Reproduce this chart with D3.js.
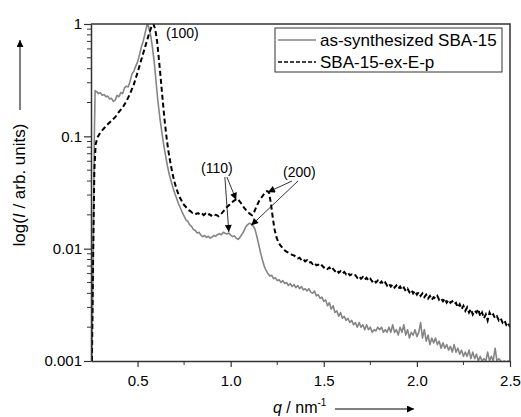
<!DOCTYPE html>
<html>
<head>
<meta charset="utf-8">
<script src="https://cdn.jsdelivr.net/npm/d3@7"></script>
<style>
  body { margin: 0; background: #fff; }
  text { font-family: Arial, "Liberation Sans", sans-serif; fill: #000; }
</style>
</head>
<body>
<div id="chart"></div>
<script>
// as-synthesized SBA-15 (grey solid)
var qSynth = [0.255,0.262,0.268,0.272,0.28,0.29,0.30,0.31,0.32,0.33,0.34,0.35,0.36,0.37,0.38,0.39,0.40,0.41,0.42,0.43,0.44,0.45,0.46,0.47,0.48,0.49,0.50,0.51,0.52,0.53,0.54,0.55,0.555,0.56,0.57,0.58,0.59,0.60,0.61,0.62,0.63,0.64,0.65,0.66,0.67,0.68,0.69,0.70,0.71,0.72,0.73,0.74,0.75,0.76,0.77,0.78,0.79,0.80,0.81,0.82,0.83,0.84,0.85,0.86,0.87,0.88,0.89,0.90,0.91,0.92,0.93,0.94,0.95,0.96,0.97,0.98,0.99,1.00,1.01,1.02,1.03,1.04,1.05,1.06,1.07,1.08,1.09,1.10,1.11,1.12,1.13,1.14,1.15,1.16,1.17,1.18,1.19,1.20,1.21,1.22,1.23,1.24,1.25,1.26,1.27,1.28,1.29,1.30,1.31,1.32,1.33,1.34,1.35,1.36,1.37,1.38,1.39,1.40,1.41,1.42,1.43,1.44,1.45,1.46,1.47,1.48,1.49,1.50,1.51,1.52,1.53,1.54,1.55,1.56,1.57,1.58,1.59,1.60,1.61,1.62,1.63,1.64,1.65,1.66,1.67,1.68,1.69,1.70,1.71,1.72,1.73,1.74,1.75,1.76,1.77,1.78,1.79,1.80,1.81,1.82,1.83,1.84,1.85,1.86,1.87,1.88,1.89,1.90,1.91,1.92,1.93,1.94,1.95,1.96,1.97,1.98,1.99,2.00,2.01,2.02,2.03,2.04,2.05,2.06,2.07,2.08,2.09,2.10,2.11,2.12,2.13,2.14,2.15,2.16,2.17,2.18,2.19,2.20,2.21,2.22,2.23,2.24,2.25,2.26,2.27,2.28,2.29,2.30,2.31,2.32,2.33,2.34,2.35,2.36,2.37,2.38,2.39,2.40,2.41,2.42,2.43,2.44,2.45,2.46,2.47,2.48,2.49,2.50];
var iSynth = [0.001,0.01,0.1,0.255,0.25,0.24,0.245,0.232,0.236,0.225,0.228,0.215,0.218,0.205,0.21,0.232,0.225,0.245,0.24,0.27,0.28,0.275,0.31,0.36,0.38,0.42,0.46,0.53,0.62,0.70,0.82,0.97,1.0,0.93,0.80,0.62,0.45,0.30,0.20,0.145,0.11,0.085,0.068,0.055,0.046,0.040,0.035,0.031,0.028,0.025,0.023,0.021,0.0195,0.018,0.0175,0.0163,0.0158,0.0148,0.0145,0.0138,0.0140,0.0132,0.0128,0.0131,0.0126,0.0129,0.0124,0.0127,0.0131,0.0129,0.0134,0.0136,0.0133,0.0140,0.0137,0.0135,0.0138,0.0132,0.0128,0.0130,0.0124,0.0121,0.0126,0.0134,0.0142,0.0155,0.0163,0.0168,0.0166,0.0160,0.0150,0.0130,0.0110,0.0093,0.0080,0.0070,0.0064,0.0060,0.0057,0.0058,0.0054,0.0055,0.0052,0.0053,0.0050,0.0052,0.0049,0.0050,0.0047,0.0049,0.0046,0.0048,0.0045,0.0047,0.0044,0.0046,0.0043,0.0044,0.0042,0.0044,0.0041,0.0040,0.0042,0.0038,0.0039,0.0036,0.0037,0.0034,0.0035,0.0031,0.0033,0.0029,0.0031,0.0027,0.0028,0.0025,0.0027,0.0024,0.0025,0.0023,0.0024,0.0022,0.0023,0.0021,0.0022,0.0020,0.0022,0.0020,0.0021,0.0019,0.0021,0.0019,0.0020,0.0018,0.0019,0.00185,0.0020,0.0019,0.0020,0.0018,0.0019,0.0018,0.0020,0.0018,0.0021,0.0018,0.0019,0.0017,0.0020,0.0018,0.0021,0.0017,0.0019,0.0016,0.0018,0.0017,0.0019,0.00165,0.0018,0.0022,0.0016,0.0019,0.0015,0.0017,0.0014,0.0016,0.00145,0.0016,0.0014,0.0015,0.0013,0.00145,0.0013,0.0014,0.00125,0.00135,0.0012,0.0014,0.0012,0.0013,0.00115,0.00125,0.0011,0.0012,0.0011,0.00125,0.00105,0.0012,0.00105,0.00115,0.001,0.0011,0.001,0.00105,0.001,0.0012,0.001,0.0011,0.001,0.0013,0.001,0.00105,0.001,0.00098,0.001,0.00097,0.001,0.00098];

// SBA-15-ex-E-p (black dashed)
var qExEp = [0.255,0.262,0.268,0.275,0.285,0.30,0.32,0.34,0.36,0.38,0.40,0.42,0.44,0.46,0.48,0.50,0.52,0.54,0.56,0.575,0.585,0.595,0.605,0.615,0.625,0.635,0.645,0.655,0.665,0.675,0.685,0.695,0.705,0.715,0.725,0.735,0.745,0.755,0.765,0.775,0.785,0.795,0.805,0.815,0.825,0.835,0.845,0.855,0.865,0.875,0.885,0.895,0.905,0.915,0.925,0.935,0.945,0.955,0.965,0.975,0.985,0.995,1.005,1.015,1.025,1.035,1.045,1.055,1.065,1.075,1.085,1.095,1.105,1.115,1.125,1.135,1.145,1.155,1.165,1.175,1.185,1.195,1.205,1.215,1.225,1.235,1.245,1.255,1.265,1.28,1.29,1.30,1.31,1.32,1.33,1.34,1.35,1.36,1.37,1.38,1.39,1.40,1.41,1.42,1.43,1.44,1.45,1.46,1.47,1.48,1.49,1.50,1.51,1.52,1.53,1.54,1.55,1.56,1.57,1.58,1.59,1.60,1.61,1.62,1.63,1.64,1.65,1.66,1.67,1.68,1.69,1.70,1.71,1.72,1.73,1.74,1.75,1.76,1.77,1.78,1.79,1.80,1.81,1.82,1.83,1.84,1.85,1.86,1.87,1.88,1.89,1.90,1.91,1.92,1.93,1.94,1.95,1.96,1.97,1.98,1.99,2.00,2.01,2.02,2.03,2.04,2.05,2.06,2.07,2.08,2.09,2.10,2.11,2.12,2.13,2.14,2.15,2.16,2.17,2.18,2.19,2.20,2.21,2.22,2.23,2.24,2.25,2.26,2.27,2.28,2.29,2.30,2.31,2.32,2.33,2.34,2.35,2.36,2.37,2.38,2.39,2.40,2.41,2.42,2.43,2.44,2.45,2.46,2.47,2.48,2.49,2.50];
var iExEp = [0.001,0.01,0.05,0.085,0.098,0.108,0.118,0.128,0.138,0.148,0.165,0.18,0.205,0.24,0.29,0.37,0.48,0.62,0.80,0.95,1.0,0.90,0.70,0.48,0.32,0.21,0.14,0.10,0.075,0.06,0.049,0.041,0.036,0.032,0.029,0.027,0.025,0.024,0.023,0.022,0.0215,0.0208,0.021,0.0204,0.0207,0.0201,0.0206,0.0199,0.0205,0.0198,0.0203,0.0197,0.0204,0.020,0.0199,0.0194,0.0201,0.0209,0.0219,0.0230,0.0239,0.0247,0.0257,0.0265,0.0272,0.0278,0.0268,0.0255,0.0240,0.0228,0.0218,0.0210,0.0203,0.0199,0.0210,0.0230,0.0250,0.0270,0.0285,0.0300,0.0315,0.0325,0.0320,0.0260,0.0195,0.0150,0.0128,0.0115,0.0108,0.0101,0.0097,0.0094,0.0092,0.0090,0.0088,0.0087,0.0085,0.0082,0.0083,0.0079,0.0081,0.0077,0.0079,0.0075,0.0076,0.0073,0.0075,0.0071,0.0072,0.0069,0.0071,0.0068,0.0069,0.0066,0.0068,0.0064,0.0066,0.0063,0.0065,0.0061,0.0063,0.0060,0.0062,0.0059,0.0061,0.0058,0.0059,0.0057,0.0058,0.0055,0.0057,0.0054,0.0056,0.0053,0.0055,0.0052,0.0054,0.0051,0.0053,0.0050,0.0052,0.0049,0.0051,0.0048,0.0050,0.0047,0.0049,0.0046,0.0048,0.0045,0.0047,0.0044,0.0046,0.0043,0.0045,0.0042,0.0044,0.0041,0.0043,0.0040,0.0042,0.0039,0.0041,0.0038,0.0040,0.0037,0.0039,0.0036,0.0038,0.0035,0.0037,0.0036,0.0038,0.0035,0.0036,0.0034,0.0036,0.0033,0.0035,0.0033,0.0034,0.0032,0.0033,0.0030,0.0032,0.0029,0.0031,0.0028,0.0030,0.0027,0.0029,0.0026,0.0028,0.0027,0.0029,0.0025,0.0027,0.0024,0.0026,0.0023,0.0027,0.0025,0.0026,0.0024,0.0025,0.0023,0.0024,0.0022,0.0023,0.0021,0.0022,0.0020,0.0021,0.0020];

var xTicks = [0.5, 1.0, 1.5, 2.0, 2.5];
var xMinor = [0.75, 1.25, 1.75, 2.25];
var yTicks = [1, 0.1, 0.01, 0.001];
var yTickLabels = ["1", "0.1", "0.01", "0.001"];
var seriesNames = ["as-synthesized SBA-15", "SBA-15-ex-E-p"];
var peakLabels = ["(100)", "(110)", "(200)"];

var width = 521, height = 417;
var margin = {top: 24, right: 11, bottom: 56, left: 91};

var svg = d3.select('#chart').append('svg')
  .attr('width', width)
  .attr('height', height);

var defs = svg.append('defs');
defs.append('clipPath').attr('id', 'plotclip')
  .append('rect')
  .attr('x', margin.left).attr('y', margin.top)
  .attr('width', width - margin.left - margin.right)
  .attr('height', height - margin.top - margin.bottom);
defs.append('marker').attr('id', 'ah')
  .attr('viewBox', '0 0 10 10').attr('refX', 10).attr('refY', 5)
  .attr('markerWidth', 9).attr('markerHeight', 7).attr('markerUnits', 'userSpaceOnUse')
  .attr('orient', 'auto')
  .append('path').attr('d', 'M0,0 L10,5 L0,10 z').attr('fill', '#000');
defs.append('marker').attr('id', 'ahBig')
  .attr('viewBox', '0 0 10 10').attr('refX', 10).attr('refY', 5)
  .attr('markerWidth', 12).attr('markerHeight', 7).attr('markerUnits', 'userSpaceOnUse')
  .attr('orient', 'auto')
  .append('path').attr('d', 'M0,0 L10,5 L0,10 z').attr('fill', '#000');

var x = d3.scaleLinear().domain([0.25, 2.5]).range([margin.left, width - margin.right]);
var y = d3.scaleLog().domain([0.001, 1]).range([height - margin.bottom, margin.top]);

// minor ticks for log axis
var yMinor = [];
[0.001, 0.01, 0.1].forEach(function(d) {
  for (var k = 2; k <= 9; k++) yMinor.push(d * k);
});

var line = d3.line()
  .x(function(d) { return x(d[0]); })
  .y(function(d) { return y(Math.max(d[1], 0.0008)); });

var synth = qSynth.map(function(q, i) { return [q, iSynth[i]]; });
var exep = qExEp.map(function(q, i) { return [q, iExEp[i]]; });

var plot = svg.append('g').attr('clip-path', 'url(#plotclip)');
plot.append('path').datum(synth)
  .attr('d', line)
  .attr('fill', 'none')
  .attr('stroke', '#858585')
  .attr('stroke-width', 1.6)
  .attr('stroke-linejoin', 'round');
plot.append('path').datum(exep)
  .attr('d', line)
  .attr('fill', 'none')
  .attr('stroke', '#000')
  .attr('stroke-width', 2)
  .attr('stroke-dasharray', '5,3');

// axes
var xAxis = d3.axisBottom(x).tickValues(xTicks).tickFormat(d3.format('.1f')).tickSizeInner(6).tickSizeOuter(0);
var gx = svg.append('g').attr('transform', 'translate(0,' + (height - margin.bottom) + ')').call(xAxis);
gx.selectAll('text').attr('font-size', 15).attr('dy', '1.05em');
gx.append('g').selectAll('line').data(xMinor).enter().append('line')
  .attr('x1', function(d) { return x(d); }).attr('x2', function(d) { return x(d); })
  .attr('y1', 0).attr('y2', 4).attr('stroke', '#333');

var yAxis = d3.axisLeft(y).tickValues(yTicks)
  .tickFormat(function(d, i) { return yTickLabels[i]; })
  .tickSizeInner(7).tickSizeOuter(0);
var gy = svg.append('g').attr('transform', 'translate(' + margin.left + ',0)').call(yAxis);
gy.selectAll('text').attr('font-size', 15).attr('x', -9);
gy.append('g').selectAll('line').data(yMinor).enter().append('line')
  .attr('x1', -4).attr('x2', 0)
  .attr('y1', function(d) { return y(d); }).attr('y2', function(d) { return y(d); })
  .attr('stroke', '#333');

svg.selectAll('.domain').attr('stroke', '#333').attr('stroke-width', 1.5);
svg.selectAll('.tick line').attr('stroke', '#333').attr('stroke-width', 1.2);
svg.selectAll('.tick text').attr('fill', '#000').attr('font-family', 'Arial, "Liberation Sans", sans-serif');

// top and right frame
svg.append('path')
  .attr('d', 'M' + margin.left + ',' + margin.top + 'H' + (width - margin.right) + 'V' + (height - margin.bottom))
  .attr('fill', 'none').attr('stroke', '#333').attr('stroke-width', 1.5);

// axis titles
var yt = svg.append('text')
  .attr('transform', 'translate(25,' + 185 + ') rotate(-90)')
  .attr('text-anchor', 'middle')
  .attr('font-size', 17);
yt.append('tspan').text('log(');
yt.append('tspan').attr('font-style', 'italic').text('I');
yt.append('tspan').text(' / arb. units)');
svg.append('line').attr('x1', 20).attr('x2', 20).attr('y1', 110).attr('y2', 40)
  .attr('stroke', '#000').attr('stroke-width', 1).attr('marker-end', 'url(#ahBig)');

var xt = svg.append('text')
  .attr('x', 273).attr('y', 413)
  .attr('font-size', 16);
xt.append('tspan').attr('font-style', 'italic').text('q');
xt.append('tspan').text(' / nm');
xt.append('tspan').attr('font-size', 10).attr('dy', -7).text('-1');
svg.append('line').attr('x1', 335).attr('x2', 414).attr('y1', 409).attr('y2', 409)
  .attr('stroke', '#000').attr('stroke-width', 1).attr('marker-end', 'url(#ahBig)');

// peak annotations
svg.append('text').attr('x', 166).attr('y', 38).attr('font-size', 14).text(peakLabels[0]);
svg.append('text').attr('x', 201).attr('y', 173).attr('font-size', 14).text(peakLabels[1]);
svg.append('text').attr('x', 283).attr('y', 177).attr('font-size', 14).text(peakLabels[2]);

var arrows = [
  [x(0.985) - 3, 177, x(0.99), y(0.0138) - 1],
  [x(0.985) - 1, 177, x(1.035) - 1, y(0.0278) + 1],
  [292, 181, x(1.2), y(0.0325) + 1],
  [298, 181, x(1.105) + 1, y(0.0168) + 2]
];
svg.append('g').selectAll('line').data(arrows).enter().append('line')
  .attr('x1', function(d) { return d[0]; }).attr('y1', function(d) { return d[1]; })
  .attr('x2', function(d) { return d[2]; }).attr('y2', function(d) { return d[3]; })
  .attr('stroke', '#000').attr('stroke-width', 0.8)
  .attr('marker-end', 'url(#ah)');

// legend
var lg = svg.append('g');
lg.append('rect').attr('x', 275).attr('y', 28).attr('width', 227).attr('height', 44)
  .attr('fill', '#fff').attr('stroke', '#333').attr('stroke-width', 1);
lg.append('line').attr('x1', 278).attr('x2', 316).attr('y1', 40).attr('y2', 40)
  .attr('stroke', '#858585').attr('stroke-width', 1.6);
lg.append('line').attr('x1', 278).attr('x2', 316).attr('y1', 62).attr('y2', 62)
  .attr('stroke', '#000').attr('stroke-width', 1.5).attr('stroke-dasharray', '4,2');
lg.selectAll('text.leg').data(seriesNames).enter().append('text')
  .attr('class', 'leg')
  .attr('x', 320)
  .attr('y', function(d, i) { return 46 + i * 22; })
  .attr('font-size', 17)
  .text(function(d) { return d; });
</script>
</body>
</html>
